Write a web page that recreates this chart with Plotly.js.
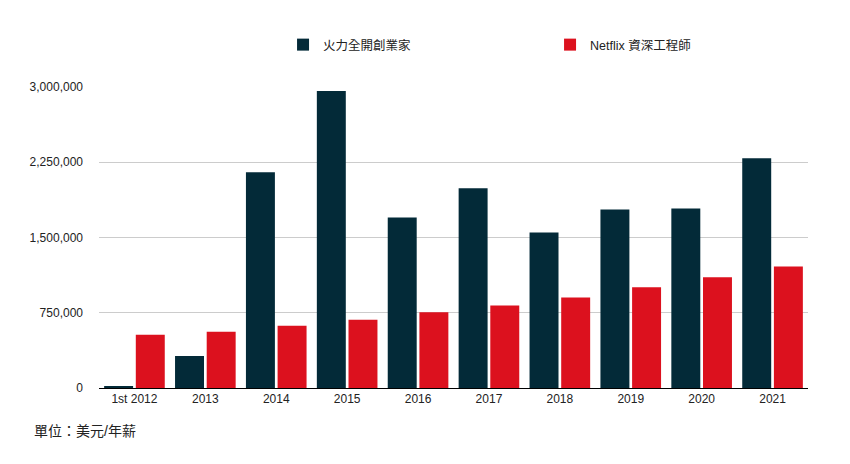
<!DOCTYPE html>
<html>
<head>
<meta charset="utf-8">
<script src="https://cdn.plot.ly/plotly-3.0.1.min.js"></script>
<style>
  html, body { margin: 0; padding: 0; background: #fff; }
  #chart { width: 850px; height: 464px; }
</style>
</head>
<body>
<div id="chart"></div>
<script>
// categories and values
const years = ['1st 2012', '2013', '2014', '2015', '2016', '2017', '2018', '2019', '2020', '2021'];
const founderPay = [20000, 320000, 2150000, 2960000, 1700000, 1990000, 1550000, 1780000, 1790000, 2290000];
const netflixPay = [530000, 560000, 620000, 680000, 755000, 823000, 903000, 1003000, 1103000, 1210000];
const yTicks = [0, 750000, 1500000, 2250000, 3000000];

const FONT = 'Liberation Sans, Arial, Noto Sans CJK TC, sans-serif';

const traces = [
  { x: years, y: founderPay, type: 'bar', name: '火力全開創業家', marker: { color: '#032a38' } },
  { x: years, y: netflixPay, type: 'bar', name: 'Netflix 資深工程師', marker: { color: '#dc111e' } }
];

const layout = {
  width: 850,
  height: 464,
  margin: { l: 99, r: 42, t: 87, b: 76 },
  paper_bgcolor: '#fff',
  plot_bgcolor: '#fff',
  font: { family: FONT, size: 12, color: '#222' },
  barmode: 'group',
  bargap: 0.107,
  bargroupgap: 0.085,
  showlegend: true,
  legend: {
    orientation: 'h',
    xref: 'container', yref: 'container',
    x: 0.333, xanchor: 'left',
    y: 1 - 45 / 464, yanchor: 'middle',
    entrywidth: 222,
    font: { family: FONT, size: 12.5, color: '#222' }
  },
  xaxis: {
    type: 'category',
    showline: true, linecolor: '#000', linewidth: 1,
    showgrid: false, ticks: '',
    tickfont: { family: FONT, size: 12, color: '#222' }
  },
  yaxis: {
    range: [0, 3000000],
    tickvals: yTicks,
    tickformat: ',',
    showgrid: true, gridcolor: '#cccccc', gridwidth: 1,
    zeroline: false,
    ticks: '', ticklabelstandoff: 15,
    tickfont: { family: FONT, size: 12, color: '#222' }
  },
  annotations: [{
    text: '單位：美元/年薪',
    xref: 'paper', yref: 'paper',
    x: -67 / 709, y: -(431 - 388) / 301,
    xanchor: 'left', yanchor: 'middle',
    showarrow: false,
    font: { family: FONT, size: 14, color: '#222' }
  }]
};

Plotly.newPlot('chart', traces, layout, { displayModeBar: false, staticPlot: true });
</script>
</body>
</html>
